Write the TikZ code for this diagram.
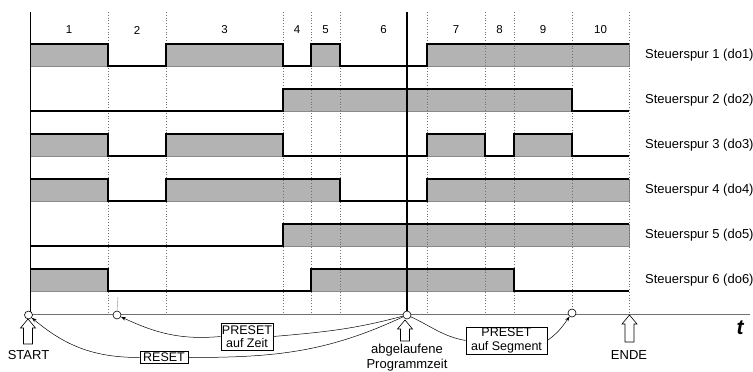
\documentclass[tikz,border=0pt]{standalone}
\usepackage{fontspec}
\setmainfont{Liberation Sans}
\usetikzlibrary{arrows.meta}
\definecolor{sgrey}{HTML}{B3B3B3}
\definecolor{egrey}{HTML}{8A8A8A}
\definecolor{dgrey}{HTML}{707070}
\tikzset{
  every picture/.style={x=1pt, y=-1pt, font=\fontsize{13}{14.5}\selectfont},
  hi/.style={fill=sgrey, draw=egrey, line width=0.5pt},
  trace/.style={line width=2.6pt},
  seg/.style={draw=dgrey, line width=0.8pt, dotted},
  ring/.style={circle, draw, fill=white, line width=0.6pt, inner sep=0pt, minimum size=8pt},
  link/.style={line width=0.5pt},
  jump/.style={link, -{Stealth[length=5pt, width=3.5pt]}},
  tag/.style={draw, line width=0.6pt, align=center, inner sep=1pt, font=\fontsize{12.5}{13.5}\selectfont},
  hollow/.style={draw, fill=white, line width=0.6pt},
  spur/.style={anchor=west, inner sep=0pt},
}
% hollow up arrow: x, tip y, bottom y
\newcommand{\hollowup}[3]{%
  \draw[hollow] (#1-4.5,#3) -- (#1-4.5,#2+9) -- (#1-7.5,#2+9) -- (#1,#2)
    -- (#1+7.5,#2+9) -- (#1+4.5,#2+9) -- (#1+4.5,#3) -- cycle;}

\begin{document}
\begin{tikzpicture}
  \useasboundingbox (0,0) rectangle (753,372);

  % ---- gray fills of the tracks
  \begin{scope}[shift={(0,44)}]
    \foreach \a/\b in {30/108,166/283,311/340,427/629} \filldraw[hi] (\a,0) rectangle (\b,22);
  \end{scope}
  \begin{scope}[shift={(0,89)}]
    \foreach \a/\b in {283/572} \filldraw[hi] (\a,0) rectangle (\b,22);
  \end{scope}
  \begin{scope}[shift={(0,134)}]
    \foreach \a/\b in {30/108,166/283,427/485,514/572} \filldraw[hi] (\a,0) rectangle (\b,22);
  \end{scope}
  \begin{scope}[shift={(0,179)}]
    \foreach \a/\b in {30/108,166/340,427/629} \filldraw[hi] (\a,0) rectangle (\b,22);
  \end{scope}
  \begin{scope}[shift={(0,224)}]
    \foreach \a/\b in {283/629} \filldraw[hi] (\a,0) rectangle (\b,22);
  \end{scope}
  \begin{scope}[shift={(0,269)}]
    \foreach \a/\b in {30/108,311/514} \filldraw[hi] (\a,0) rectangle (\b,22);
  \end{scope}

  % ---- segment borders
  \foreach \x in {108,166,283,311,340,427,485,514,572,629} \draw[seg] (\x,12) -- (\x,314);

  % ---- axes
  \draw[line width=0.7pt] (30,12) -- (30,314);
  \draw[dgrey, line width=0.8pt] (30,314) -- (750,314);

  % ---- segment numbers
  \foreach \n/\x in {1/69,2/137,3/224.5,4/297,5/325.5,6/383.5,7/456,8/499.5,9/543,10/600.5}
    \node[font=\fontsize{11.5}{13}\selectfont] (n\n) at (\x,30) {\n};

  % ---- traces
  \begin{scope}[shift={(0,44)}]
    \draw[trace] (30,0) -| (108,22) -| (166,0) -| (283,22) -| (311,0) -| (340,22) -| (427,0) -- (629,0);
  \end{scope}
  \begin{scope}[shift={(0,89)}]
    \draw[trace] (30,22) -| (283,0) -| (572,22) -- (629,22);
  \end{scope}
  \begin{scope}[shift={(0,134)}]
    \draw[trace] (30,0) -| (108,22) -| (166,0) -| (283,22) -| (427,0) -| (485,22) -| (514,0) -| (572,22) -- (629,22);
  \end{scope}
  \begin{scope}[shift={(0,179)}]
    \draw[trace] (30,0) -| (108,22) -| (166,0) -| (340,22) -| (427,0) -- (629,0);
  \end{scope}
  \begin{scope}[shift={(0,224)}]
    \draw[trace] (30,22) -| (283,0) -- (629,0);
  \end{scope}
  \begin{scope}[shift={(0,269)}]
    \draw[trace] (30,0) -| (108,22) -| (311,0) -| (514,22) -- (629,22);
  \end{scope}

  % ---- track names
  \foreach \k/\y in {1/55,2/100,3/145,4/190,5/235,6/280}
    \node[spur] (sp\k) at (645,\y) {Steuerspur \k\ (do\k)};

  % ---- marks on the time axis
  \node[ring] (c0) at (28.5,315) {};
  \node[ring] (c1) at (117,315) {};
  \node[ring] (c3) at (407,315) {};
  \node[ring] (c4) at (572,313) {};
  \draw[line width=1.2pt] (407,12) -- (c3.north);
  \draw[egrey, line width=0.4pt] (118,297) -- (c1.north);

  % ---- preset / reset boxes
  \node[tag, minimum width=50pt, minimum height=27pt] (zeit) at (247,336.5) {PRESET\\auf Zeit};
  \node[tag, minimum width=48pt, minimum height=12pt, text height=8.8pt, text depth=0pt] (reset) at (164,357.5) {RESET};
  \node[tag, minimum width=81pt, minimum height=27pt] (segm) at (506.5,340.5) {PRESET\\auf Segment};

  \draw[link] (c3) to[out=195,in=5] (zeit.east);
  \draw[jump] (zeit.west) to[out=185,in=-25] (c1);
  \draw[link] (c3) to[out=205,in=0] (reset.east);
  \draw[jump] (reset.west) to[out=180,in=-40] (c0);
  \draw[link] (c3) to[out=-25,in=170] (segm.west);
  \draw[jump] (segm.east) to[out=35,in=-125] (c4);

  % ---- hollow arrows and labels
  \hollowup{28}{319}{344}
  \hollowup{405}{320}{341}
  \hollowup{629.5}{315}{342}
  \node (start) at (28.5,355) {START};
  \node[align=center] (prog) at (407,357.5) {abgelaufene\\Programmzeit};
  \node (ende) at (629,355) {ENDE};
  \node (t) at (740,328) {\fontsize{21}{24}\selectfont\bfseries\itshape t};
\end{tikzpicture}
\end{document}
